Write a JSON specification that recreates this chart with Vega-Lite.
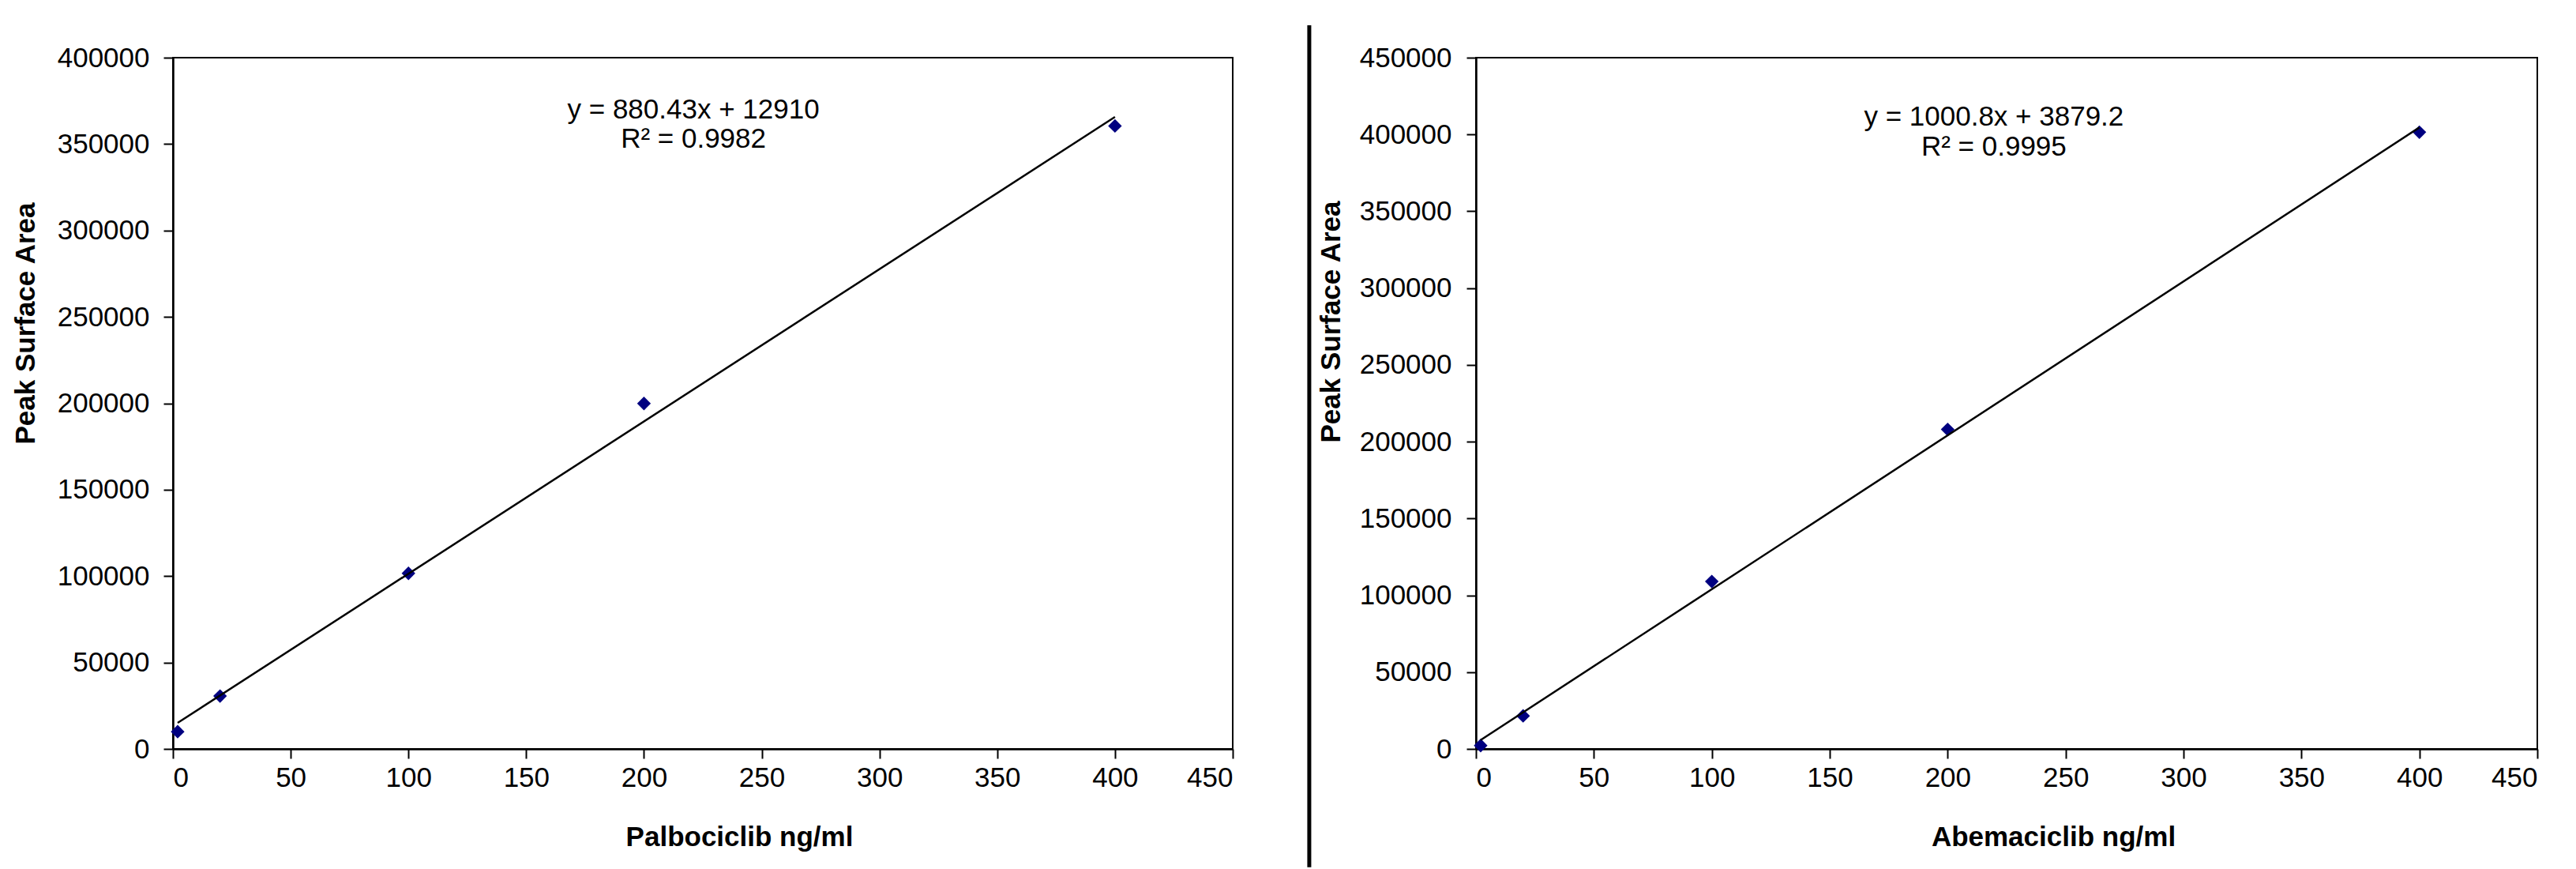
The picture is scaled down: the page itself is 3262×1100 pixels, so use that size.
{
  "$schema": "https://vega.github.io/schema/vega-lite/v6.json",
  "background": "white",
  "padding": {"left": 14, "top": 28, "right": 0, "bottom": 0},
  "spacing": 308,
  "bounds": "flush",
  "config": {
    "font": "Liberation Sans",
    "view": {"stroke": "black", "strokeWidth": 2},
    "axis": {
      "domainColor": "black", "domainWidth": 2.5,
      "tickColor": "black", "tickWidth": 2, "tickSize": 12,
      "labelFontSize": 35, "labelColor": "black", "labelFont": "Liberation Sans",
      "titleFontSize": 35, "titleFontWeight": "bold", "titleColor": "black", "titleFont": "Liberation Sans",
      "grid": false
    }
  },
  "hconcat": [
    {
      "width": 1342,
      "height": 875,
      "data": {"values": [
        {"conc": 2, "area": 10000},
        {"conc": 20, "area": 30600},
        {"conc": 100, "area": 101600},
        {"conc": 200, "area": 199900},
        {"conc": 400, "area": 360500}
      ]},
      "layer": [
        {
          "mark": {"type": "point", "shape": "diamond", "filled": true, "size": 300, "color": "#000080", "opacity": 1},
          "encoding": {
            "x": {"field": "conc", "type": "quantitative",
              "scale": {"domain": [0, 450], "nice": false, "zero": false},
              "axis": {"values": [0, 50, 100, 150, 200, 250, 300, 350, 400, 450], "labelPadding": 7,
                "title": "Palbociclib ng/ml", "titleX": 717, "titleY": 111, "titleBaseline": "middle", "titleAlign": "center", "titleAnchor": "start"}},
            "y": {"field": "area", "type": "quantitative",
              "scale": {"domain": [0, 400000], "nice": false, "zero": false},
              "axis": {"values": [0, 50000, 100000, 150000, 200000, 250000, 300000, 350000, 400000], "format": "d", "labelPadding": 18,
                "title": "Peak Surface Area", "titleX": -187, "titleY": 336, "titleBaseline": "middle", "titleAlign": "center", "titleAngle": -90, "titleAnchor": "start"}}
          }
        },
        {
          "transform": [{"regression": "area", "on": "conc"}],
          "mark": {"type": "line", "color": "black", "strokeWidth": 2.5},
          "encoding": {
            "x": {"field": "conc", "type": "quantitative"},
            "y": {"field": "area", "type": "quantitative"}
          }
        },
        {
          "data": {"values": [{"eq": "y = 880.43x + 12910", "r2": "R² = 0.9982"}]},
          "mark": {"type": "text", "fontSize": 35, "color": "black", "baseline": "middle", "align": "center"},
          "encoding": {"x": {"datum": 221}, "y": {"datum": 369900}, "text": {"field": "eq"}}
        },
        {
          "data": {"values": [{"eq": "y = 880.43x + 12910", "r2": "R² = 0.9982"}]},
          "mark": {"type": "text", "fontSize": 35, "color": "black", "baseline": "middle", "align": "center"},
          "encoding": {"x": {"datum": 221}, "y": {"datum": 353000}, "text": {"field": "r2"}}
        },
        {
          "data": {"values": [{"divider": "panel separator"}]},
          "mark": {"type": "rule", "color": "black", "strokeWidth": 5, "clip": false},
          "encoding": {"x": {"datum": 482.5}, "y": {"datum": 418700}, "y2": {"datum": -68500}}
        }
      ]
    },
    {
      "width": 1344,
      "height": 875,
      "data": {"values": [
        {"conc": 2, "area": 2200},
        {"conc": 20, "area": 21500},
        {"conc": 100, "area": 109000},
        {"conc": 200, "area": 208000},
        {"conc": 400, "area": 401500}
      ]},
      "layer": [
        {
          "mark": {"type": "point", "shape": "diamond", "filled": true, "size": 300, "color": "#000080", "opacity": 1},
          "encoding": {
            "x": {"field": "conc", "type": "quantitative",
              "scale": {"domain": [0, 450], "nice": false, "zero": false},
              "axis": {"values": [0, 50, 100, 150, 200, 250, 300, 350, 400, 450], "labelPadding": 7,
                "title": "Abemaciclib ng/ml", "titleX": 731, "titleY": 111, "titleBaseline": "middle", "titleAlign": "center", "titleAnchor": "start"}},
            "y": {"field": "area", "type": "quantitative",
              "scale": {"domain": [0, 450000], "nice": false, "zero": false},
              "axis": {"values": [0, 50000, 100000, 150000, 200000, 250000, 300000, 350000, 400000, 450000], "format": "d", "labelPadding": 19,
                "title": "Peak Surface Area", "titleX": -184, "titleY": 334, "titleBaseline": "middle", "titleAlign": "center", "titleAngle": -90, "titleAnchor": "start"}}
          }
        },
        {
          "transform": [{"regression": "area", "on": "conc"}],
          "mark": {"type": "line", "color": "black", "strokeWidth": 2.5},
          "encoding": {
            "x": {"field": "conc", "type": "quantitative"},
            "y": {"field": "area", "type": "quantitative"}
          }
        },
        {
          "data": {"values": [{"eq": "y = 1000.8x + 3879.2", "r2": "R² = 0.9995"}]},
          "mark": {"type": "text", "fontSize": 35, "color": "black", "baseline": "middle", "align": "center"},
          "encoding": {"x": {"datum": 219.6}, "y": {"datum": 411600}, "text": {"field": "eq"}}
        },
        {
          "data": {"values": [{"eq": "y = 1000.8x + 3879.2", "r2": "R² = 0.9995"}]},
          "mark": {"type": "text", "fontSize": 35, "color": "black", "baseline": "middle", "align": "center"},
          "encoding": {"x": {"datum": 219.6}, "y": {"datum": 391800}, "text": {"field": "r2"}}
        }
      ]
    }
  ]
}
